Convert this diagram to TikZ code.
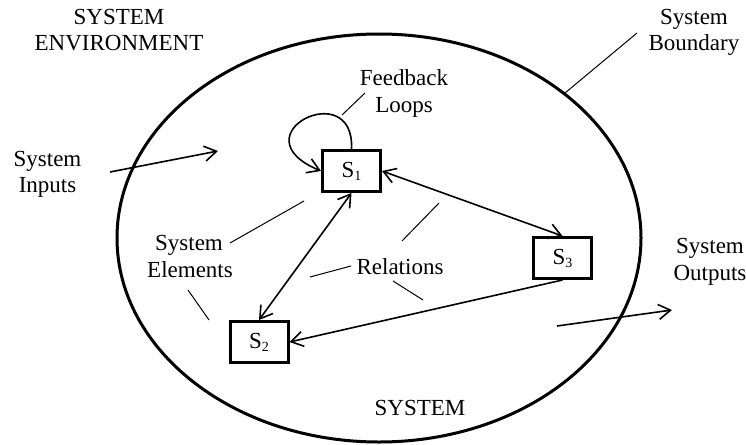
\documentclass[tikz,border=0pt]{standalone}
\usepackage{fontspec}
\setmainfont{Liberation Serif}
\usetikzlibrary{arrows.meta,shapes.geometric}
\newcommand\lbfont{\fontsize{23}{26.5}\selectfont}
\newcommand\subn[1]{\raisebox{-3pt}{\fontsize{14}{14}\selectfont #1}}
\tikzset{
  lbl/.style={font=\lbfont, inner sep=0pt, anchor=base},
  elembox/.style={draw, line width=3pt, minimum width=58pt, minimum height=41pt, inner sep=0pt, font=\lbfont},
  conn/.style={line width=1.6pt, arrows={-Straight Barb[length=12pt,width=15pt]}},
  bconn/.style={line width=1.6pt, arrows={Straight Barb[length=12pt,width=15pt]-Straight Barb[length=12pt,width=15pt]}},
  ptr/.style={line width=1pt},
}
\begin{document}
\begin{tikzpicture}[x=1pt,y=-1pt]
\useasboundingbox (0,0) rectangle (746,444);
% system boundary
\node[draw, ellipse, line width=3pt, minimum width=524pt, minimum height=408pt, inner sep=0pt] (sys) at (379,238) {};
% elements
\node[elembox] (s1) at (351.5,171) {S\subn{1}};
\node[elembox] (s2) at (259,342) {S\subn{2}};
\node[elembox] (s3) at (562.5,258) {S\subn{3}};
% labels
\node[lbl] (envA) at (119,25) {SYSTEM};
\node[lbl] (envB) at (119,51) {ENVIRONMENT};
\node[lbl] (inA) at (47.5,166) {System};
\node[lbl] (inB) at (47.5,192) {Inputs};
\node[lbl] (fbA) at (404,85) {Feedback};
\node[lbl] (fbB) at (404,112) {Loops};
\node[lbl] (bdA) at (694,25) {System};
\node[lbl] (bdB) at (694,51) {Boundary};
\node[lbl] (elA) at (189,250) {System};
\node[lbl] (elB) at (190,277) {Elements};
\node[lbl] (rel) at (400,274) {Relations};
\node[lbl] (outA) at (710,253) {System};
\node[lbl] (outB) at (710,280) {Outputs};
\node[lbl] (sysl) at (420,415) {SYSTEM};
% input / output arrows
\coordinate (inS) at (110,172);
\coordinate (inE) at (218,151);
\coordinate (outS) at (557,326);
\coordinate (outE) at (672,310);
\draw[conn] (inS) -- (inE);
\draw[conn] (outS) -- (outE);
% relations
\draw[bconn] (s1.east) -- (s3.north);
\draw[bconn] (s1.south) -- (s2.north);
\draw[conn] (s3.south) -- (s2.east);
% feedback loop
\draw[conn] (s1.north) .. controls (355,75) and (235,135) .. (s1.west);
% pointer lines
\coordinate (p1a) at (342,115); \coordinate (p1b) at (365,93);
\coordinate (p2a) at (565,93);  \coordinate (p2b) at (637,33);
\coordinate (p3a) at (230,243); \coordinate (p3b) at (304,201);
\coordinate (p4a) at (188,290); \coordinate (p4b) at (209,320);
\coordinate (p5a) at (310,277); \coordinate (p5b) at (351,266);
\coordinate (p6a) at (393,281); \coordinate (p6b) at (423,300);
\coordinate (p7a) at (402,241); \coordinate (p7b) at (439,203);
\draw[ptr] (p1a) -- (p1b);
\draw[ptr] (p2a) -- (p2b);
\draw[ptr] (p3a) -- (p3b);
\draw[ptr] (p4a) -- (p4b);
\draw[ptr] (p5a) -- (p5b);
\draw[ptr] (p6a) -- (p6b);
\draw[ptr] (p7a) -- (p7b);
\end{tikzpicture}
\end{document}
